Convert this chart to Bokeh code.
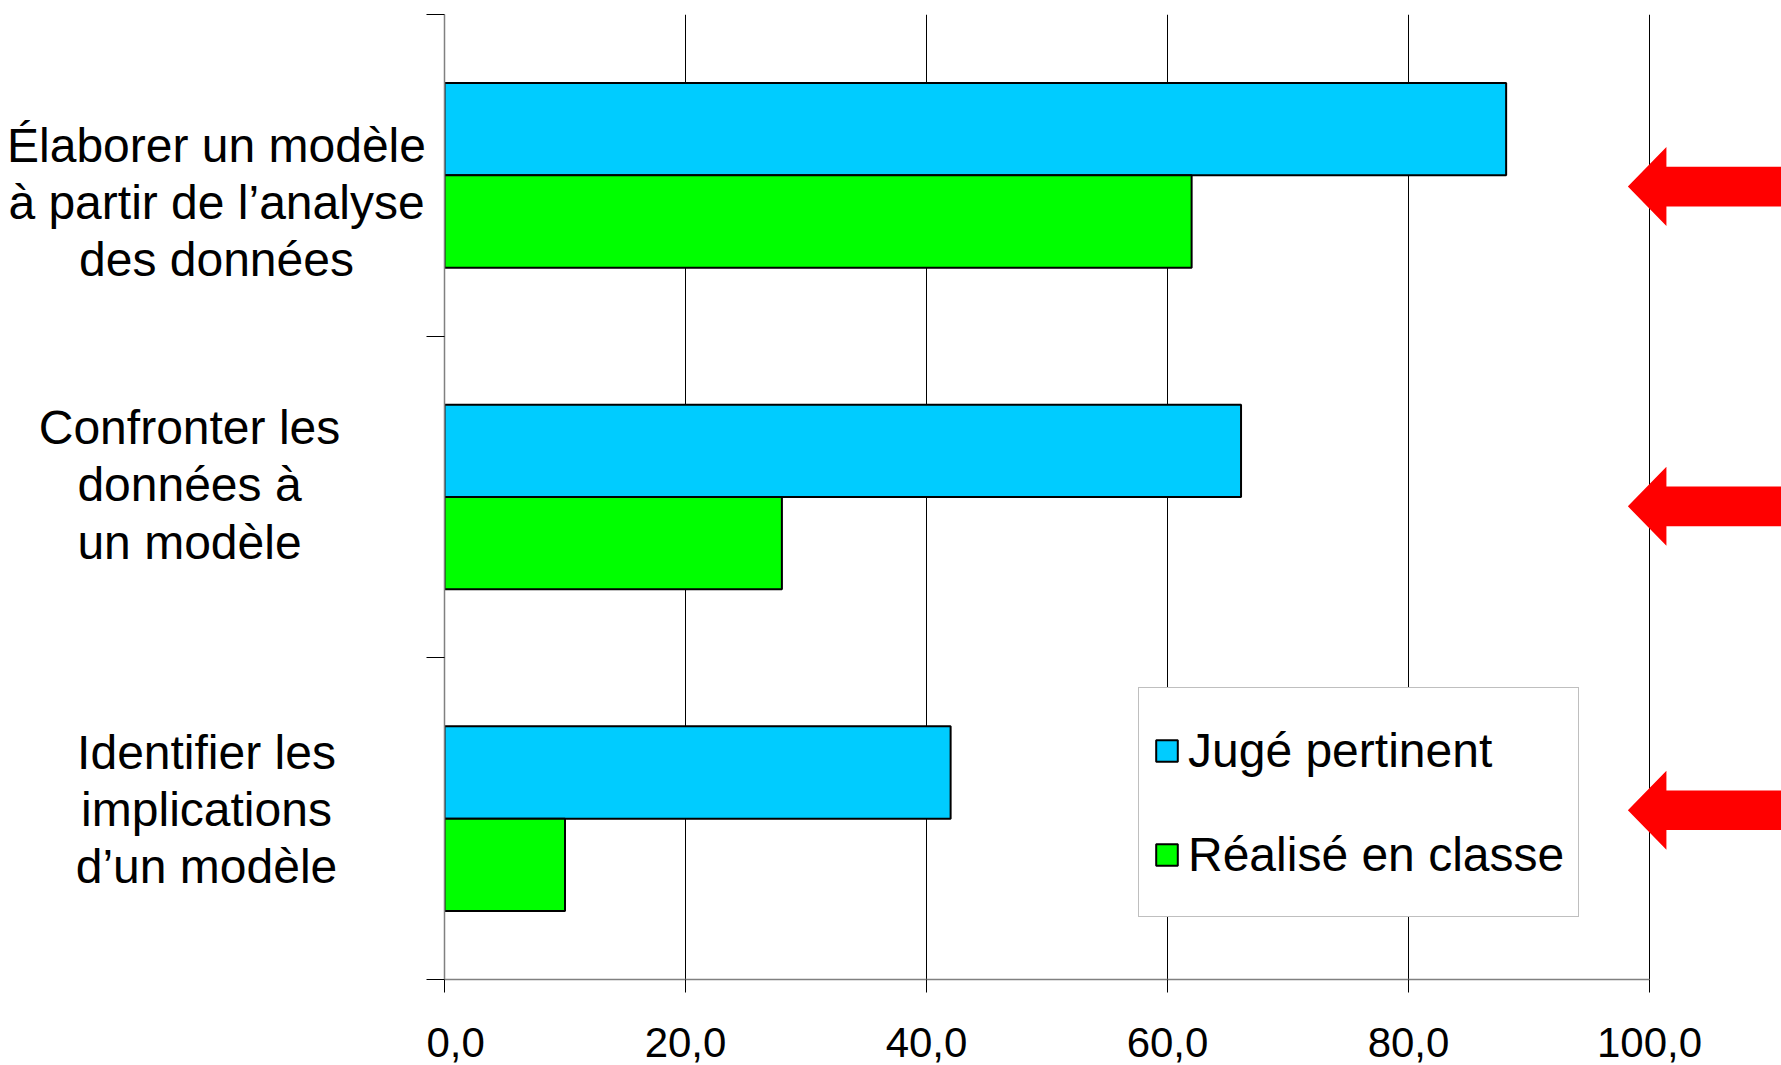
from bokeh.plotting import figure
from bokeh.layouts import row
from bokeh.models import Range1d, FixedTicker, Legend, LegendItem, ColumnDataSource
from bokeh.core.properties import value
from bokeh.embed import file_html
from bokeh.resources import INLINE

# ---- data ----
categories = [
    "Élaborer un modèle\nà partir de l’analyse\ndes données",
    "Confronter les\ndonnées à\nun modèle",
    "Identifier les\nimplications\nd’un modèle",
]
series_names = ["Jugé pertinent", "Réalisé en classe"]
juge_pertinent = [88.1, 66.1, 42.0]
realise_en_classe = [62.0, 28.0, 10.0]
x_ticks = [0, 20, 40, 60, 80, 100]
x_tick_labels = ["0,0", "20,0", "40,0", "60,0", "80,0", "100,0"]

# ---- layout helpers ----
n = len(categories)
centers = [n - i - 0.5 for i in range(n)]   # first category at the top
bar_h = 0.287
off = 0.1435
arrow_dy = [-0.035, -0.029, 0.026]            # arrows' small vertical offsets
label_dy = [-0.084, 0.038, 0.028]             # category label vertical offsets
label_x = [216, 189, 206]                     # category label centres (px in label panel)

BLUE = "#00CCFF"
GREEN = "#00FF00"
RED = "#FF0000"
FONT = "Liberation Sans"
LEFT_W = 426
TOP, BOTTOM = 14, 86
H = 1065

yr = Range1d(0, n)

# ---- main chart ----
p = figure(width=1781 - LEFT_W, height=H, output_backend="svg", toolbar_location=None,
           x_range=Range1d(0, 110.95), y_range=yr,
           min_border_left=18, min_border_right=0, min_border_top=TOP,
           min_border_bottom=BOTTOM)
p.outline_line_color = None
p.background_fill_color = "white"
p.border_fill_color = "white"

src1 = ColumnDataSource(dict(y=[c + off for c in centers], right=juge_pertinent))
src2 = ColumnDataSource(dict(y=[c - off for c in centers], right=realise_en_classe))

r1 = p.hbar(y="y", right="right", left=0, height=bar_h, source=src1,
            fill_color=BLUE, line_color="black", line_width=2)
r2 = p.hbar(y="y", right="right", left=0, height=bar_h, source=src2,
            fill_color=GREEN, line_color="black", line_width=2)

# red arrows pointing at each category
for c, d in zip(centers, arrow_dy):
    y0 = c + d
    tip, back, end = 98.2, 101.4, 111.5
    hh, sh = 0.1227, 0.0616
    p.patch(x=[tip, back, back, end, end, back, back],
            y=[y0, y0 + hh, y0 + sh, y0 + sh, y0 - sh, y0 - sh, y0 - hh],
            fill_color=RED, line_color=None)

# grid
p.ygrid.visible = False
p.xgrid.ticker = FixedTicker(ticks=x_ticks[1:])
p.xgrid.grid_line_color = "black"
p.xgrid.grid_line_width = 1
p.xgrid.bounds = (0, 100)

# x axis
xa = p.xaxis[0]
xa.ticker = FixedTicker(ticks=x_ticks)
xa.major_label_overrides = {t: l for t, l in zip(x_ticks, x_tick_labels)}
xa.bounds = (0, 100)
xa.axis_line_color = "#808080"
xa.axis_line_width = 1.5
xa.major_tick_out = 13
xa.major_tick_in = 0
xa.minor_tick_out = 0
xa.major_tick_line_color = "black"
xa.major_label_text_font = FONT
xa.major_label_text_font_size = "42px"
xa.major_label_text_color = "black"
xa.major_label_text_line_height = 0.8
xa.major_label_standoff = 35

# y axis: ticks at the category band boundaries
ya = p.yaxis[0]
ya.ticker = FixedTicker(ticks=list(range(n + 1)))
ya.major_label_text_font_size = "0px"
ya.major_label_text_alpha = 0
ya.axis_line_color = "#808080"
ya.axis_line_width = 1.5
ya.major_tick_out = 18
ya.major_tick_in = 0
ya.minor_tick_out = 0
ya.major_tick_line_color = "black"
ya.major_label_standoff = 0

legend = Legend(items=[LegendItem(label=series_names[0], renderers=[r1]),
                       LegendItem(label=series_names[1], renderers=[r2])],
                location=(694, 62), orientation="vertical",
                glyph_width=27, glyph_height=27, label_standoff=8,
                label_height=96, spacing=8, padding=14, margin=0,
                label_text_font=FONT, label_text_font_size="48px",
                label_text_color="black",
                border_line_color="#808080", border_line_width=1,
                background_fill_color="white", background_fill_alpha=1.0)
p.add_layout(legend, "center")

# ---- category label panel (shares the y scale) ----
lp = figure(width=LEFT_W, height=H, output_backend="svg", toolbar_location=None,
            x_range=Range1d(0, LEFT_W), y_range=yr,
            min_border_left=0, min_border_right=0, min_border_top=TOP,
            min_border_bottom=BOTTOM)
lp.axis.visible = False
lp.grid.visible = False
lp.outline_line_color = None
lp.background_fill_color = "white"
lp.border_fill_color = "white"
lsrc = ColumnDataSource(dict(x=label_x, y=[c + d for c, d in zip(centers, label_dy)],
                             text=categories))
lp.text(x="x", y="y", text="text", source=lsrc, text_align="center",
        text_baseline="middle", text_font=value(FONT), text_font_size=value("48px"),
        text_color="black", text_line_height=1.08)

layout = row(lp, p, spacing=0)
open("out.html", "w").write(file_html(layout, INLINE))
